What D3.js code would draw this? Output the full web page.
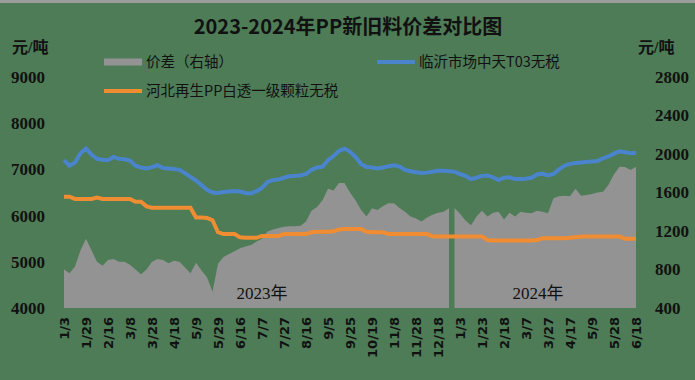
<!DOCTYPE html>
<html>
<head>
<meta charset="utf-8">
<script src="https://cdn.jsdelivr.net/npm/d3@7"></script>
<style>
  body { margin: 0; background: #4d7c57; }
  svg { display: block; }
</style>
</head>
<body>
<svg width="695" height="380"></svg>
<script>
// tick labels on the category axis, one every 4 data points
var xLabels = ["1/3","1/29","2/16","3/8","3/28","4/18","5/9","5/29","6/16","7/7","7/27","8/16","9/5","9/25",
  "10/19","11/8","11/28","12/18","1/3","1/23","2/18","3/7","3/27","4/17","5/9","5/28","6/18"];
var step = 4;

// 临沂市场中天T03无税 (left axis)
var linyiT03 = [7200,7080,7150,7350,7450,7320,7230,7210,7200,7270,
  7230,7220,7190,7080,7040,7020,7050,7090,7030,7020,
  7010,6990,6920,6840,6760,6660,6560,6500,6490,6510,
  6520,6530,6520,6490,6480,6530,6600,6730,6770,6780,
  6820,6850,6860,6870,6900,6990,7040,7060,7200,7290,
  7400,7450,7380,7270,7120,7050,7040,7020,7040,7070,
  7090,7060,6990,6960,6940,6920,6930,6950,6970,6970,
  6960,6950,6900,6860,6790,6820,6860,6870,6830,6770,
  6820,6830,6790,6790,6800,6820,6890,6910,6870,6900,
  7000,7080,7120,7140,7150,7160,7170,7180,7240,7280,
  7340,7390,7370,7350,7360];

// 河北再生PP白透一级颗粒无税 (left axis)
var hebeiRecycled = [6410,6410,6360,6360,6360,6360,6390,6360,6360,6360,
  6360,6360,6360,6300,6300,6200,6170,6170,6170,6170,
  6170,6170,6170,6170,5960,5960,5950,5900,5640,5600,
  5600,5600,5530,5520,5520,5520,5560,5560,5560,5560,
  5600,5600,5600,5600,5600,5640,5650,5650,5650,5660,
  5700,5710,5710,5710,5710,5650,5640,5640,5640,5600,
  5600,5600,5600,5600,5600,5600,5600,5550,5545,5545,
  5545,5545,5545,5545,5545,5545,5545,5470,5460,5460,
  5460,5460,5460,5460,5460,5460,5470,5510,5510,5510,
  5510,5510,5520,5530,5545,5545,5545,5545,5545,5545,
  5545,5545,5500,5500,5500];

// 价差 (right axis), split at the new-year gap
var spread2023 = [800,760,830,1000,1120,1000,880,840,900,910,
  880,880,850,800,750,800,880,910,900,865,
  890,880,820,760,870,790,720,570,860,930,
  960,990,1020,1040,1055,1090,1120,1195,1215,1230,
  1245,1250,1250,1255,1300,1410,1450,1520,1640,1620,
  1700,1700,1600,1520,1420,1350,1436,1418,1460,1488,
  1488,1440,1400,1350,1330,1300,1340,1370,1390,1400,
  1436];
var spread2024 = [1440,1380,1310,1260,1350,1410,1350,1390,1400,1320,
  1390,1350,1400,1390,1385,1410,1400,1384,1540,1560,
  1565,1560,1640,1565,1575,1585,1600,1608,1680,1790,
  1868,1865,1834,1868];

var leftTicks = [4000,5000,6000,7000,8000,9000];
var rightTicks = [400,800,1200,1600,2000,2400,2800];

var svg = d3.select("svg");
var nPts = linyiT03.length;

var x = d3.scaleLinear().domain([0, nPts - 1]).range([64, 636]);
var yL = d3.scaleLinear().domain([4000, 9000]).range([308, 77]);
var yR = d3.scaleLinear().domain([400, 2800]).range([308, 77]);

svg.append("rect").attr("x", 0).attr("y", 0).attr("width", 695).attr("height", 3).attr("fill", "#9c9c9c");

// gray spread area
var area = d3.area()
  .x(function(d) { return x(d.i); })
  .y0(yR(400))
  .y1(function(d) { return yR(d.v); });

var seg1 = spread2023.map(function(v, k) { return {i: k, v: v}; });
var seg2 = spread2024.map(function(v, k) { return {i: k + spread2023.length, v: v}; });
[seg1, seg2].forEach(function(seg) {
  svg.append("path").datum(seg).attr("d", area).attr("fill", "#939393");
});

// year labels
svg.append("text").attr("x", 262).attr("y", 299).attr("text-anchor", "middle")
  .style("font", "17px 'Liberation Serif', 'Noto Sans CJK SC'").attr("fill", "#111").text("2023年");
svg.append("text").attr("x", 538).attr("y", 299).attr("text-anchor", "middle")
  .style("font", "17px 'Liberation Serif', 'Noto Sans CJK SC'").attr("fill", "#111").text("2024年");

var line = d3.line()
  .x(function(d, k) { return x(k); })
  .y(function(d) { return yL(d); });

svg.append("path").datum(hebeiRecycled).attr("d", line)
  .attr("fill", "none").attr("stroke", "#f08c32").attr("stroke-width", 4);
svg.append("path").datum(linyiT03).attr("d", line)
  .attr("fill", "none").attr("stroke", "#4a84cc").attr("stroke-width", 4);

// axes
var tickFont = "bold 17px 'Liberation Serif', serif";
var gl = svg.append("g").attr("transform", "translate(48,0)")
  .call(d3.axisLeft(yL).tickValues(leftTicks).tickSize(0).tickPadding(3).tickFormat(d3.format("d")));
var gr = svg.append("g").attr("transform", "translate(652,0)")
  .call(d3.axisRight(yR).tickValues(rightTicks).tickSize(0).tickPadding(3).tickFormat(d3.format("d")));
[gl, gr].forEach(function(g) {
  g.select(".domain").remove();
  g.selectAll("text").style("font", tickFont).attr("fill", "#111");
});

var xTicks = xLabels.map(function(d, k) { return k * step; });
var gx = svg.append("g").attr("transform", "translate(0,312)")
  .call(d3.axisBottom(x).tickValues(xTicks).tickSize(0)
    .tickFormat(function(d) { return xLabels[d / step]; }));
gx.select(".domain").remove();
gx.selectAll("text")
  .attr("transform", "rotate(-90)")
  .attr("x", -5).attr("y", 0).attr("dy", "0.35em")
  .attr("text-anchor", "end")
  .style("font", "bold 13px 'DejaVu Sans', sans-serif").attr("fill", "#111");

// title and units
svg.append("text").attr("x", 348).attr("y", 34).attr("text-anchor", "middle")
  .style("font", "bold 20px 'Noto Sans CJK SC'").attr("fill", "#111")
  .text("2023-2024年PP新旧料价差对比图");
svg.append("text").attr("x", 12).attr("y", 53)
  .style("font", "bold 16px 'Liberation Serif', 'Noto Sans CJK SC'").attr("fill", "#111").text("元/吨");
svg.append("text").attr("x", 638).attr("y", 53)
  .style("font", "bold 16px 'Liberation Serif', 'Noto Sans CJK SC'").attr("fill", "#111").text("元/吨");

// legend
var legend = [
  {name: "价差（右轴）", color: "#939393", x: 104, y: 62, h: 7},
  {name: "临沂市场中天T03无税", color: "#4a84cc", x: 377, y: 62, h: 4},
  {name: "河北再生PP白透一级颗粒无税", color: "#f08c32", x: 104, y: 91, h: 4}
];
var lg = svg.append("g").selectAll("g").data(legend).enter().append("g");
lg.append("rect")
  .attr("x", function(d) { return d.x; })
  .attr("y", function(d) { return d.y - d.h / 2; })
  .attr("width", 38).attr("height", function(d) { return d.h; })
  .attr("fill", function(d) { return d.color; });
lg.append("text")
  .attr("x", function(d) { return d.x + 42; })
  .attr("y", function(d) { return d.y + 5; })
  .style("font", "14.5px 'Noto Sans CJK SC'").attr("fill", "#111")
  .text(function(d) { return d.name; });
</script>
</body>
</html>
